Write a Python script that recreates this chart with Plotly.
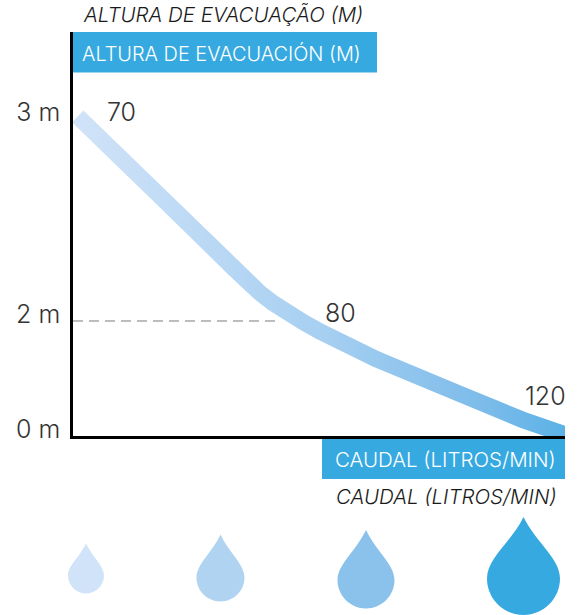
import plotly.graph_objects as go
import numpy as np

W, H = 578, 615
LEFT, RIGHT, TOP, BOTTOM = 73, 565, 32, 436

# schematic axes (the original scale is not linear)
curve_x = [4.7, 27, 57, 87, 117, 142, 161, 175, 187, 200, 214, 230, 247, 264, 280, 303, 327, 350, 384, 417, 450, 492, 507]
curve_y = [319.7, 298, 269, 240, 211, 186, 167.5, 154, 143, 133, 124, 114, 104.5, 96, 88, 77, 67, 57, 43, 29.5, 16, 1.5, -4]
flow_labels = ['70', '80', '120']
flow_label_x = [48, 267, 472]
flow_label_y = [324, 123, 40]
height_ticks = [0, 115, 317]
height_labels = ['0 m', '2 m', '3 m']
dash_x = [0, 207]
dash_y = [115, 115]

# droplets in page pixels
drop_cx = [86, 220.5, 366, 523.5]
drop_tip = [543.5, 534.5, 530, 517]
drop_bottom = [593.5, 601.5, 608.5, 615]
drop_hw = [18, 24, 28.5, 36.5]
drop_colors = ['#D1E3F8', '#B1D3F2', '#8BC2EC', '#36A9E1']

BLUE = '#36A9E1'
FONT = 'Inter'
TEXT = '#333333'


# paper coordinates run over the plot area, not the page
def px(x):
    return (x - LEFT) / (RIGHT - LEFT)


def py(y):
    return (BOTTOM - y) / (BOTTOM - TOP)


def band(xs, ys, width):
    xs, ys = np.array(xs, float), np.array(ys, float)
    dx, dy = np.gradient(xs), np.gradient(ys)
    n = np.hypot(dx, dy)
    ox, oy = -dy / n * width / 2, dx / n * width / 2
    return (list(xs + ox) + list((xs - ox)[::-1]),
            list(ys + oy) + list((ys - oy)[::-1]))


def drop_path(cx, tip, bottom, hw):
    cy = bottom - hw
    k = 0.55 * hw
    pts = [
        ('M', [(cx, tip)]),
        ('C', [(cx + 0.35 * hw, tip + 0.42 * (cy - tip)), (cx + hw, cy - 0.55 * hw), (cx + hw, cy)]),
        ('C', [(cx + hw, cy + k), (cx + k, bottom), (cx, bottom)]),
        ('C', [(cx - k, bottom), (cx - hw, cy + k), (cx - hw, cy)]),
        ('C', [(cx - hw, cy - 0.55 * hw), (cx - 0.35 * hw, tip + 0.42 * (cy - tip)), (cx, tip)]),
    ]
    s = ''
    for cmd, coords in pts:
        s += cmd + ' '.join(f'{px(a):.5f},{py(b):.5f}' for a, b in coords) + ' '
    return s + 'Z'


fig = go.Figure()

fig.add_trace(go.Scatter(x=dash_x, y=dash_y, mode='lines', hoverinfo='skip',
                         line=dict(color='#A8A8A8', width=1.5, dash='10px,6px')))

band_x, band_y = band(curve_x, curve_y, 16.5)
fig.add_trace(go.Scatter(x=band_x + band_x[:1], y=band_y + band_y[:1], mode='lines',
                         line=dict(width=0), fill='toself', hoverinfo='skip',
                         fillgradient=dict(type='horizontal',
                                           colorscale=[[0, '#D1E3F8'], [0.5, '#A6CFF1'], [0.8, '#7DBCEA'], [1, '#55AFE5']])))

shapes = []
for cx, tip, bottom, hw, col in zip(drop_cx, drop_tip, drop_bottom, drop_hw, drop_colors):
    shapes.append(dict(type='path', xref='paper', yref='paper', path=drop_path(cx, tip, bottom, hw),
                       fillcolor=col, line=dict(width=0)))
# header boxes
shapes.append(dict(type='rect', xref='paper', yref='paper', x0=px(71), x1=px(377), y0=py(72.5), y1=py(32),
                   fillcolor=BLUE, line=dict(width=0), layer='below'))
shapes.append(dict(type='rect', xref='paper', yref='paper', x0=px(322), x1=px(565), y0=py(479), y1=py(438),
                   fillcolor=BLUE, line=dict(width=0), layer='below'))

annotations = []
for lab, x, y in zip(flow_labels, flow_label_x, flow_label_y):
    annotations.append(dict(x=x, y=y, text=lab, showarrow=False, xref='x', yref='y',
                            xanchor='center', yanchor='middle',
                            font=dict(family=FONT, size=25, color=TEXT, weight=300)))
for txt, x, y, col, ital, size in [('ALTURA DE EVACUACIÓN (M)', 221, 53, 'white', False, 19.9),
                                   ('CAUDAL (LITROS/MIN)', 445.5, 459, 'white', False, 20.5),
                                   ('ALTURA DE EVACUAÇÃO (M)', 223, 15, '#1a1a1a', True, 20.5),
                                   ('CAUDAL (LITROS/MIN)', 446, 497, '#1a1a1a', True, 20.5)]:
    text = f'<i>{txt}</i>' if ital else txt
    annotations.append(dict(x=px(x), y=py(y), text=text, showarrow=False, xref='paper', yref='paper',
                            xanchor='center', yanchor='middle',
                            font=dict(family=FONT, size=size, color=col, weight=300)))

fig.update_layout(
    width=W, height=H,
    margin=dict(l=LEFT, r=W - RIGHT, t=TOP, b=H - BOTTOM),
    paper_bgcolor='white', plot_bgcolor='white',
    showlegend=False,
    shapes=shapes, annotations=annotations,
    xaxis=dict(range=[0, RIGHT - LEFT], showgrid=False, zeroline=False, showticklabels=False,
               showline=True, linecolor='black', linewidth=2.5, ticks=''),
    yaxis=dict(range=[0, BOTTOM - TOP], showgrid=False, zeroline=False, showline=True, linecolor='black',
               linewidth=2.5, tickvals=height_ticks, ticktext=height_labels, ticks='',
               ticklabelstandoff=5, ticklabelshift=-7,
               tickfont=dict(family=FONT, size=25, color=TEXT, weight=300)),
)

fig.write_html("out.html", config=dict(displayModeBar=False),
               post_script="document.body.style.margin='0';")
